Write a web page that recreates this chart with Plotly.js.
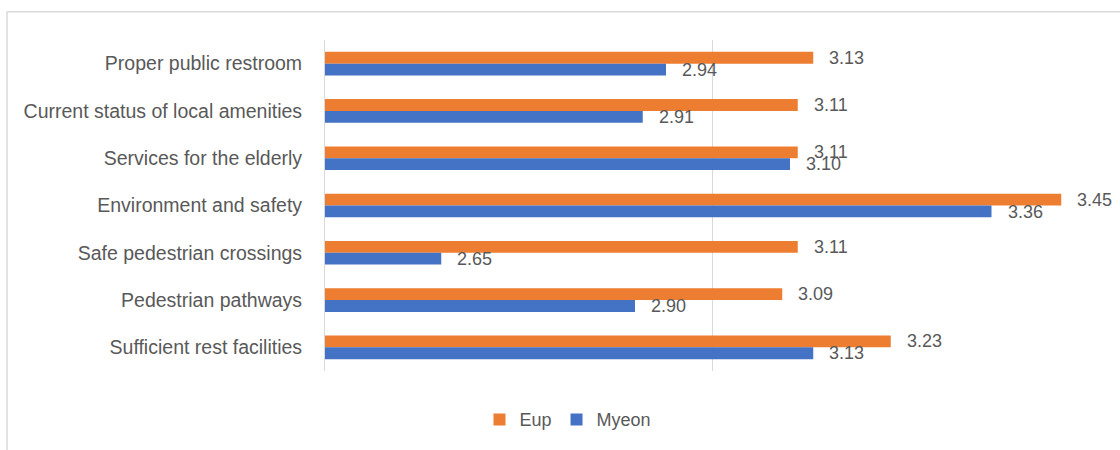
<!DOCTYPE html>
<html>
<head>
<meta charset="utf-8">
<script src="https://cdn.plot.ly/plotly-3.0.1.min.js"></script>
<style>
  html, body { margin: 0; padding: 0; background: #ffffff; }
  #chart { width: 1120px; height: 450px; }
</style>
</head>
<body>
<div id="chart"></div>
<script>
// Satisfaction items, listed top to bottom
const categories = [
  "Proper public restroom",
  "Current status of local amenities",
  "Services for the elderly",
  "Environment and safety",
  "Safe pedestrian crossings",
  "Pedestrian pathways",
  "Sufficient rest facilities"
];
const eupValues   = [3.13, 3.11, 3.11, 3.45, 3.11, 3.09, 3.23];
const myeonValues = [2.94, 2.91, 3.10, 3.36, 2.65, 2.90, 3.13];
const seriesNames = ["Eup", "Myeon"];
const xTicks = [2.5, 3.0, 3.5];

const ORANGE = "#ED7D31";
const BLUE = "#4472C4";
const TEXT = "#595959";
const FONT = "Liberation Sans, Arial, sans-serif";

const W = 1120, H = 450;
const margin = { l: 325, r: 20, t: 40, b: 77 };
const plotW = W - margin.l - margin.r;
const plotH = H - margin.t - margin.b;

const traces = [
  {
    type: "bar", orientation: "h", name: seriesNames[0],
    y: categories, x: eupValues,
    marker: { color: ORANGE }, hoverinfo: "x"
  },
  {
    type: "bar", orientation: "h", name: seriesNames[1],
    y: categories, x: myeonValues,
    marker: { color: BLUE }, hoverinfo: "x"
  }
];

// Value labels just beyond each bar end, one row per series
const annotations = [];
[eupValues, myeonValues].forEach((vals, si) => {
  vals.forEach((v, i) => {
    annotations.push({
      x: v, y: categories[i], xref: "x", yref: "y",
      text: v.toFixed(2), showarrow: false,
      xanchor: "left", yanchor: "middle",
      xshift: 14, yshift: si === 0 ? 6 : -6,
      font: { family: FONT, size: 18, color: TEXT }
    });
  });
});

// Frame: top and left edges of the chart area
const px = v => (v - margin.l) / plotW;
const py = v => 1 - (v - margin.t) / plotH;
const frame = { color: "#d9d9d9", width: 1.5 };
const shapes = [
  { type: "line", xref: "paper", yref: "paper", x0: px(7), x1: px(1125), y0: py(11.5), y1: py(11.5), line: frame },
  { type: "line", xref: "paper", yref: "paper", x0: px(7), x1: px(7), y0: py(11.5), y1: py(455), line: frame }
];

const layout = {
  width: W, height: H,
  margin: margin,
  paper_bgcolor: "#ffffff",
  plot_bgcolor: "#ffffff",
  barmode: "group",
  bargap: 0.5,
  bargroupgap: 0,
  font: { family: FONT, size: 18, color: TEXT },
  xaxis: {
    range: [2.5, 3.5],
    tickvals: xTicks,
    showticklabels: false,
    showgrid: true,
    gridcolor: "#d9d9d9",
    gridwidth: 1,
    zeroline: false,
    showline: false,
    fixedrange: true
  },
  yaxis: {
    type: "category",
    autorange: "reversed",
    showgrid: false,
    showline: true,
    linecolor: "#d9d9d9",
    linewidth: 1,
    ticks: "",
    ticklabelstandoff: 18,
    tickfont: { family: FONT, size: 19.5, color: TEXT },
    fixedrange: true
  },
  legend: {
    orientation: "h",
    x: (568 - margin.l) / plotW, xanchor: "center",
    y: py(422), yanchor: "middle",
    font: { family: FONT, size: 18, color: TEXT },
    itemwidth: 30,
    traceorder: "normal"
  },
  showlegend: true,
  annotations: annotations,
  shapes: shapes
};

Plotly.newPlot("chart", traces, layout, { displayModeBar: false, staticPlot: true });
</script>
</body>
</html>
